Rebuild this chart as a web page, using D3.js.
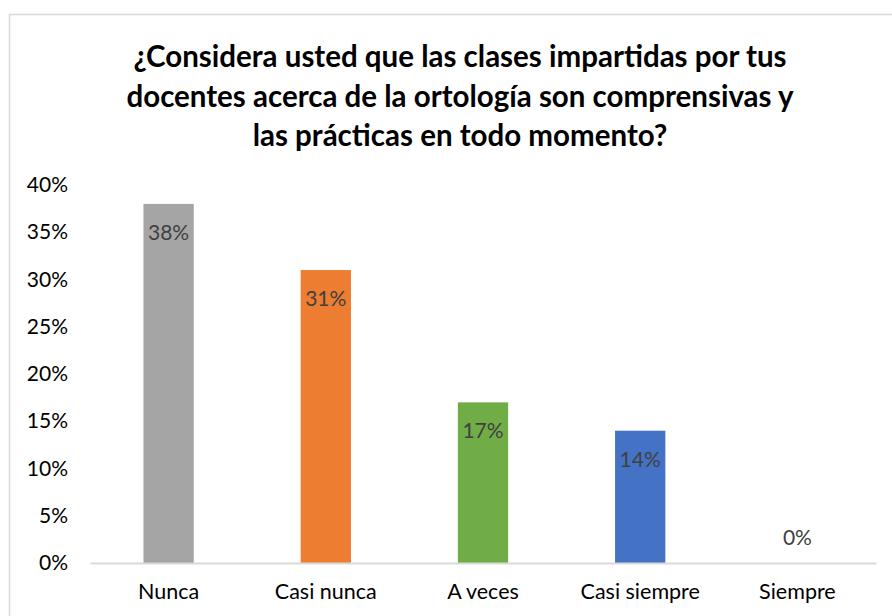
<!DOCTYPE html>
<html>
<head>
<meta charset="utf-8">
<script src="https://cdn.jsdelivr.net/npm/d3@7"></script>
<style>
  body { margin: 0; background: #fff; }
  svg { display: block; font-family: Lato, "Open Sans", sans-serif; }
</style>
</head>
<body>
<svg id="chart" width="892" height="616"></svg>
<script>
let categories = ["Nunca", "Casi nunca", "A veces", "Casi siempre", "Siempre"];
let values = [0.38, 0.31, 0.17, 0.14, 0];
let barColors = ["#a5a5a5", "#ed7d31", "#70ad47", "#4472c4", "#ffc000"];
let yTicks = [0, 0.05, 0.1, 0.15, 0.2, 0.25, 0.3, 0.35, 0.4];
let titleLines = [
    "¿Considera usted que las clases impartidas por tus",
    "docentes acerca de la ortología son comprensivas y",
    "las prácticas en todo momento?"
];

let svg = d3.select("#chart");
let margin = {top: 185, right: 16, bottom: 53, left: 90};
let width = 892, height = 616;

// chart frame
svg.append("rect")
    .attr("x", 9.5).attr("y", 14.5)
    .attr("width", 900).attr("height", 700)
    .attr("fill", "#fff")
    .attr("stroke", "#d9d9d9").attr("stroke-width", 1.5);

// title
svg.append("g").selectAll("text")
    .data(titleLines).enter().append("text")
    .attr("x", 460)
    .attr("y", (d, i) => 67 + i * 39.5)
    .attr("text-anchor", "middle")
    .attr("font-size", 29.5)
    .attr("font-weight", "bold")
    .attr("fill", "#000")
    .text(d => d);

let x = d3.scaleBand()
    .domain(categories)
    .range([margin.left, width - margin.right])
    .paddingInner(0.68).paddingOuter(0.34);

let y = d3.scaleLinear()
    .domain([0, 0.4])
    .range([height - margin.bottom, margin.top]);

// y axis labels (no line)
let yAxis = svg.append("g")
    .attr("transform", `translate(${margin.left - 12},0)`)
    .call(d3.axisLeft(y).tickValues(yTicks).tickFormat(d3.format(".0%")).tickSize(0).tickPadding(10));
yAxis.select(".domain").remove();
yAxis.selectAll("text")
    .attr("font-family", "Lato, 'Open Sans', sans-serif")
    .attr("font-size", 21)
    .attr("fill", "#000");

// bars
svg.append("g").selectAll("rect.data")
    .data(values).enter().append("rect")
    .attr("class", "data")
    .attr("x", (d, i) => x(categories[i]))
    .attr("width", x.bandwidth())
    .attr("y", d => y(d))
    .attr("height", d => y(0) - y(d))
    .attr("fill", (d, i) => barColors[i]);

// x axis
let xAxis = svg.append("g")
    .attr("transform", `translate(0,${y(0)})`)
    .call(d3.axisBottom(x).tickSize(0).tickPadding(21));
xAxis.select(".domain").attr("stroke", "#d9d9d9").attr("stroke-width", 2);
xAxis.selectAll("text")
    .attr("font-family", "Lato, 'Open Sans', sans-serif")
    .attr("font-size", 21.5)
    .attr("fill", "#000");

// data labels
svg.append("g").selectAll("text")
    .data(values).enter().append("text")
    .attr("x", (d, i) => x(categories[i]) + x.bandwidth() / 2)
    .attr("y", d => d > 0 ? y(d) + 36 : y(d) - 18)
    .attr("text-anchor", "middle")
    .attr("font-size", 21)
    .attr("fill", "#404040")
    .text(d => d3.format(".0%")(d));
</script>
</body>
</html>
